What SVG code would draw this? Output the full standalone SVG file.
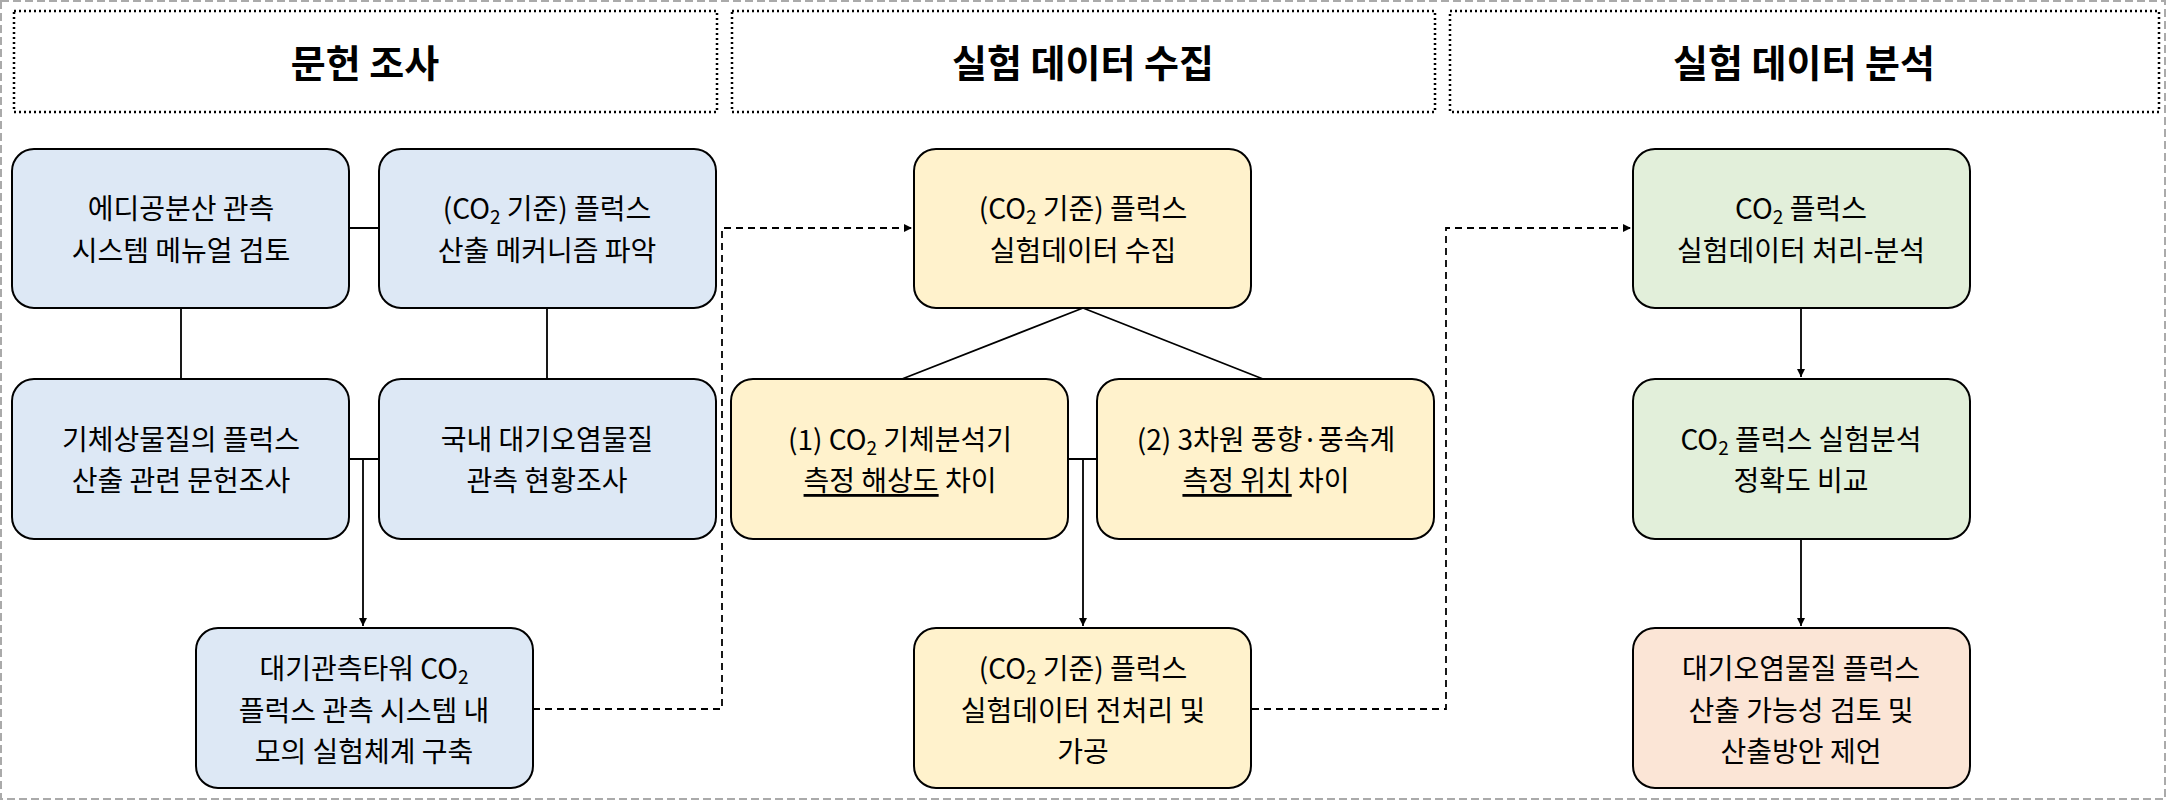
<svg xmlns="http://www.w3.org/2000/svg" width="2166" height="800" viewBox="0 0 2166 800">
<defs>
<style>
text{font-family:"Noto Sans CJK KR","Noto Sans",sans-serif;font-size:28px;fill:#000;text-anchor:middle;dominant-baseline:central}
.h{font-size:38px;font-weight:bold}
.hd{fill:none;stroke:#000;stroke-width:2.5;stroke-dasharray:2 3}
.n{stroke:#000;stroke-width:2}
.b{fill:#dde8f5}.y{fill:#fff2cc}.g{fill:#e2efda}.p{fill:#fbe5d6}
.c{fill:none;stroke:#000;stroke-width:1.8}
.d{stroke-dasharray:7 5}
.s{font-size:19px}
</style>
<marker id="ar" viewBox="0 0 10 10" refX="10" refY="5" markerWidth="8" markerHeight="8" markerUnits="userSpaceOnUse" orient="auto"><path d="M0,0L10,5L0,10z" fill="#000"/></marker>
</defs>
<rect x="1" y="1" width="2164" height="798" fill="#fff" stroke="#aaa" stroke-width="2" stroke-dasharray="8 4"/>
<g id="headers">
<rect class="hd" x="14" y="11" width="703" height="101"/>
<text class="h" x="365" y="60">문헌 조사</text>
<rect class="hd" x="732" y="11" width="703" height="101"/>
<text class="h" x="1083" y="60">실험 데이터 수집</text>
<rect class="hd" x="1450" y="11" width="709" height="101"/>
<text class="h" x="1804" y="60">실험 데이터 분석</text>
</g>
<g id="connectors">
<path class="c" d="M349,228H379M181,308V379M547,308V379M349,459H379"/>
<path class="c" d="M363,459V626" marker-end="url(#ar)"/>
<path class="c d" d="M533,709H722V228H912" marker-end="url(#ar)"/>
<path class="c" d="M1083,308L902,379M1083,308L1263,379M1068,459H1097"/>
<path class="c" d="M1083,459V626" marker-end="url(#ar)"/>
<path class="c d" d="M1252,709H1446V228H1631" marker-end="url(#ar)"/>
<path class="c" d="M1801,308V377" marker-end="url(#ar)"/>
<path class="c" d="M1801,539V626" marker-end="url(#ar)"/>
</g>
<g id="A"><rect class="n b" x="12" y="149" width="337" height="159" rx="22"/>
<text x="181" y="207">에디공분산 관측</text><text x="181" y="249">시스템 메뉴얼 검토</text></g>
<g id="B"><rect class="n b" x="379" y="149" width="337" height="159" rx="22"/>
<text x="547" y="207">(CO<tspan class="s" dy="8">2</tspan><tspan dy="-8"> 기준) 플럭스</tspan></text><text x="547" y="249">산출 메커니즘 파악</text></g>
<g id="C"><rect class="n b" x="12" y="379" width="337" height="160" rx="22"/>
<text x="181" y="438">기체상물질의 플럭스</text><text x="181" y="479">산출 관련 문헌조사</text></g>
<g id="D"><rect class="n b" x="379" y="379" width="337" height="160" rx="22"/>
<text x="547" y="438">국내 대기오염물질</text><text x="547" y="479">관측 현황조사</text></g>
<g id="E"><rect class="n b" x="196" y="628" width="337" height="160" rx="22"/>
<text x="364" y="667">대기관측타워 CO<tspan class="s" dy="8">2</tspan></text><text x="364" y="709">플럭스 관측 시스템 내</text><text x="364" y="750">모의 실험체계 구축</text></g>
<g id="F"><rect class="n y" x="914" y="149" width="337" height="159" rx="22"/>
<text x="1083" y="207">(CO<tspan class="s" dy="8">2</tspan><tspan dy="-8"> 기준) 플럭스</tspan></text><text x="1083" y="249">실험데이터 수집</text></g>
<g id="G"><rect class="n y" x="731" y="379" width="337" height="160" rx="22"/>
<text x="900" y="438">(1) CO<tspan class="s" dy="8">2</tspan><tspan dy="-8"> 기체분석기</tspan></text><text x="900" y="479"><tspan text-decoration="underline">측정 해상도</tspan> 차이</text></g>
<g id="H"><rect class="n y" x="1097" y="379" width="337" height="160" rx="22"/>
<text x="1266" y="438">(2) 3차원 풍향·풍속계</text><text x="1266" y="479"><tspan text-decoration="underline">측정 위치</tspan> 차이</text></g>
<g id="I"><rect class="n y" x="914" y="628" width="337" height="160" rx="22"/>
<text x="1083" y="667">(CO<tspan class="s" dy="8">2</tspan><tspan dy="-8"> 기준) 플럭스</tspan></text><text x="1083" y="709">실험데이터 전처리 및</text><text x="1083" y="750">가공</text></g>
<g id="J"><rect class="n g" x="1633" y="149" width="337" height="159" rx="22"/>
<text x="1801" y="207">CO<tspan class="s" dy="8">2</tspan><tspan dy="-8"> 플럭스</tspan></text><text x="1801" y="249">실험데이터 처리-분석</text></g>
<g id="K"><rect class="n g" x="1633" y="379" width="337" height="160" rx="22"/>
<text x="1801" y="438">CO<tspan class="s" dy="8">2</tspan><tspan dy="-8"> 플럭스 실험분석</tspan></text><text x="1801" y="479">정확도 비교</text></g>
<g id="L"><rect class="n p" x="1633" y="628" width="337" height="160" rx="22"/>
<text x="1801" y="667">대기오염물질 플럭스</text><text x="1801" y="709">산출 가능성 검토 및</text><text x="1801" y="750">산출방안 제언</text></g>
</svg>
